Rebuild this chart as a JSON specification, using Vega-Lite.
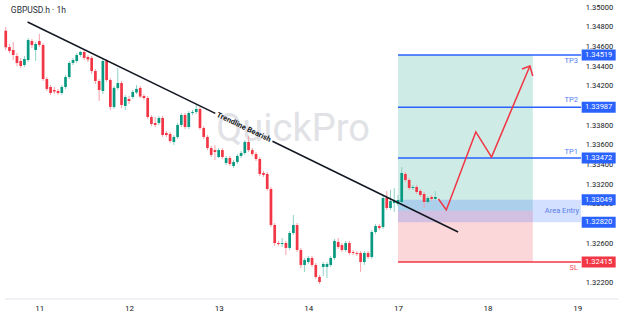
{
  "$schema": "https://vega.github.io/schema/vega-lite/v6.json",
  "width": 586,
  "height": 299,
  "autosize": {"type": "none"},
  "padding": {"left": 0, "top": 0, "right": 38, "bottom": 17},
  "background": "#ffffff",
  "config": {"view": {"stroke": null}, "font": "Roboto", "axis": {"grid": false}},
  "datasets": {
    "candles": [
      {"t":-9,"o":1.34766,"hi":1.34804,"lo":1.34570,"c":1.34597},
      {"t":-8,"o":1.34600,"hi":1.34631,"lo":1.34539,"c":1.34560},
      {"t":-7,"o":1.34570,"hi":1.34651,"lo":1.34468,"c":1.34519},
      {"t":-6,"o":1.34509,"hi":1.34539,"lo":1.34407,"c":1.34438},
      {"t":-5,"o":1.34458,"hi":1.34489,"lo":1.34387,"c":1.34407},
      {"t":-4,"o":1.34417,"hi":1.34509,"lo":1.34397,"c":1.34478},
      {"t":-3,"o":1.34468,"hi":1.34692,"lo":1.34448,"c":1.34671},
      {"t":-2,"o":1.34661,"hi":1.34682,"lo":1.34590,"c":1.34621},
      {"t":-1,"o":1.34570,"hi":1.34651,"lo":1.34458,"c":1.34631},
      {"t":0,"o":1.34661,"hi":1.34733,"lo":1.34600,"c":1.34621},
      {"t":1,"o":1.34621,"hi":1.34641,"lo":1.34255,"c":1.34275},
      {"t":2,"o":1.34275,"hi":1.34295,"lo":1.34153,"c":1.34174},
      {"t":3,"o":1.34194,"hi":1.34214,"lo":1.34113,"c":1.34133},
      {"t":4,"o":1.34163,"hi":1.34194,"lo":1.34122,"c":1.34148},
      {"t":5,"o":1.34153,"hi":1.34174,"lo":1.34113,"c":1.34133},
      {"t":6,"o":1.34133,"hi":1.34214,"lo":1.34113,"c":1.34194},
      {"t":7,"o":1.34194,"hi":1.34316,"lo":1.34174,"c":1.34295},
      {"t":8,"o":1.34295,"hi":1.34458,"lo":1.34275,"c":1.34438},
      {"t":9,"o":1.34438,"hi":1.34489,"lo":1.34417,"c":1.34468},
      {"t":10,"o":1.34458,"hi":1.34539,"lo":1.34438,"c":1.34519},
      {"t":11,"o":1.34519,"hi":1.34560,"lo":1.34499,"c":1.34550},
      {"t":12,"o":1.34550,"hi":1.34570,"lo":1.34468,"c":1.34489},
      {"t":13,"o":1.34499,"hi":1.34519,"lo":1.34448,"c":1.34473},
      {"t":14,"o":1.34489,"hi":1.34509,"lo":1.34326,"c":1.34356},
      {"t":15,"o":1.34356,"hi":1.34377,"lo":1.34224,"c":1.34255},
      {"t":16,"o":1.34255,"hi":1.34275,"lo":1.34052,"c":1.34163},
      {"t":17,"o":1.34153,"hi":1.34478,"lo":1.34122,"c":1.34458},
      {"t":18,"o":1.34458,"hi":1.34478,"lo":1.34245,"c":1.34265},
      {"t":19,"o":1.34265,"hi":1.34285,"lo":1.33960,"c":1.33991},
      {"t":20,"o":1.33991,"hi":1.34204,"lo":1.33970,"c":1.34184},
      {"t":21,"o":1.34184,"hi":1.34387,"lo":1.34163,"c":1.34234},
      {"t":22,"o":1.34234,"hi":1.34255,"lo":1.33980,"c":1.34011},
      {"t":23,"o":1.34001,"hi":1.34113,"lo":1.33960,"c":1.34092},
      {"t":24,"o":1.34072,"hi":1.34102,"lo":1.34021,"c":1.34052},
      {"t":25,"o":1.34092,"hi":1.34163,"lo":1.34072,"c":1.34143},
      {"t":26,"o":1.34138,"hi":1.34214,"lo":1.34122,"c":1.34174},
      {"t":27,"o":1.34184,"hi":1.34204,"lo":1.34082,"c":1.34097},
      {"t":28,"o":1.34102,"hi":1.34122,"lo":1.34062,"c":1.34082},
      {"t":29,"o":1.34082,"hi":1.34102,"lo":1.33869,"c":1.33889},
      {"t":30,"o":1.33889,"hi":1.33909,"lo":1.33797,"c":1.33818},
      {"t":31,"o":1.33828,"hi":1.33889,"lo":1.33787,"c":1.33808},
      {"t":32,"o":1.33828,"hi":1.33899,"lo":1.33808,"c":1.33879},
      {"t":33,"o":1.33879,"hi":1.33899,"lo":1.33686,"c":1.33706},
      {"t":34,"o":1.33726,"hi":1.33747,"lo":1.33686,"c":1.33706},
      {"t":35,"o":1.33716,"hi":1.33737,"lo":1.33625,"c":1.33645},
      {"t":36,"o":1.33635,"hi":1.33706,"lo":1.33604,"c":1.33686},
      {"t":37,"o":1.33686,"hi":1.33828,"lo":1.33665,"c":1.33808},
      {"t":38,"o":1.33808,"hi":1.33930,"lo":1.33787,"c":1.33909},
      {"t":39,"o":1.33909,"hi":1.33930,"lo":1.33767,"c":1.33787},
      {"t":40,"o":1.33787,"hi":1.33950,"lo":1.33767,"c":1.33930},
      {"t":41,"o":1.33930,"hi":1.33960,"lo":1.33909,"c":1.33940},
      {"t":42,"o":1.33940,"hi":1.34021,"lo":1.33919,"c":1.33970},
      {"t":43,"o":1.33970,"hi":1.33991,"lo":1.33757,"c":1.33777},
      {"t":44,"o":1.33777,"hi":1.33797,"lo":1.33665,"c":1.33686},
      {"t":45,"o":1.33686,"hi":1.33706,"lo":1.33553,"c":1.33574},
      {"t":46,"o":1.33574,"hi":1.33594,"lo":1.33482,"c":1.33503},
      {"t":47,"o":1.33553,"hi":1.33604,"lo":1.33452,"c":1.33533},
      {"t":48,"o":1.33482,"hi":1.33574,"lo":1.33472,"c":1.33553},
      {"t":49,"o":1.33553,"hi":1.33574,"lo":1.33462,"c":1.33482},
      {"t":50,"o":1.33421,"hi":1.33493,"lo":1.33401,"c":1.33472},
      {"t":51,"o":1.33472,"hi":1.33493,"lo":1.33391,"c":1.33411},
      {"t":52,"o":1.33391,"hi":1.33452,"lo":1.33371,"c":1.33432},
      {"t":53,"o":1.33432,"hi":1.33513,"lo":1.33411,"c":1.33493},
      {"t":54,"o":1.33493,"hi":1.33543,"lo":1.33472,"c":1.33523},
      {"t":55,"o":1.33523,"hi":1.33655,"lo":1.33503,"c":1.33635},
      {"t":56,"o":1.33635,"hi":1.33696,"lo":1.33533,"c":1.33553},
      {"t":57,"o":1.33553,"hi":1.33574,"lo":1.33493,"c":1.33513},
      {"t":58,"o":1.33513,"hi":1.33533,"lo":1.33442,"c":1.33462},
      {"t":59,"o":1.33462,"hi":1.33482,"lo":1.33289,"c":1.33310},
      {"t":60,"o":1.33320,"hi":1.33340,"lo":1.33279,"c":1.33300},
      {"t":61,"o":1.33310,"hi":1.33330,"lo":1.33137,"c":1.33157},
      {"t":62,"o":1.33157,"hi":1.33178,"lo":1.32771,"c":1.32791},
      {"t":63,"o":1.32791,"hi":1.32812,"lo":1.32578,"c":1.32608},
      {"t":64,"o":1.32608,"hi":1.32629,"lo":1.32578,"c":1.32598},
      {"t":65,"o":1.32598,"hi":1.32659,"lo":1.32568,"c":1.32608},
      {"t":66,"o":1.32608,"hi":1.32629,"lo":1.32486,"c":1.32558},
      {"t":67,"o":1.32558,"hi":1.32730,"lo":1.32537,"c":1.32710},
      {"t":68,"o":1.32710,"hi":1.32893,"lo":1.32690,"c":1.32791},
      {"t":69,"o":1.32791,"hi":1.32812,"lo":1.32517,"c":1.32537},
      {"t":70,"o":1.32537,"hi":1.32558,"lo":1.32354,"c":1.32385},
      {"t":71,"o":1.32385,"hi":1.32456,"lo":1.32314,"c":1.32436},
      {"t":72,"o":1.32415,"hi":1.32476,"lo":1.32395,"c":1.32456},
      {"t":73,"o":1.32456,"hi":1.32476,"lo":1.32365,"c":1.32385},
      {"t":74,"o":1.32385,"hi":1.32405,"lo":1.32243,"c":1.32263},
      {"t":75,"o":1.32263,"hi":1.32283,"lo":1.32192,"c":1.32212},
      {"t":76,"o":1.32365,"hi":1.32415,"lo":1.32273,"c":1.32395},
      {"t":77,"o":1.32365,"hi":1.32415,"lo":1.32253,"c":1.32395},
      {"t":78,"o":1.32385,"hi":1.32476,"lo":1.32365,"c":1.32456},
      {"t":79,"o":1.32456,"hi":1.32649,"lo":1.32436,"c":1.32629},
      {"t":80,"o":1.32619,"hi":1.32659,"lo":1.32547,"c":1.32568},
      {"t":81,"o":1.32588,"hi":1.32608,"lo":1.32517,"c":1.32537},
      {"t":82,"o":1.32537,"hi":1.32629,"lo":1.32517,"c":1.32608},
      {"t":83,"o":1.32608,"hi":1.32629,"lo":1.32486,"c":1.32507},
      {"t":84,"o":1.32517,"hi":1.32537,"lo":1.32486,"c":1.32507},
      {"t":85,"o":1.32507,"hi":1.32527,"lo":1.32476,"c":1.32497},
      {"t":86,"o":1.32507,"hi":1.32527,"lo":1.32314,"c":1.32415},
      {"t":87,"o":1.32415,"hi":1.32527,"lo":1.32385,"c":1.32507},
      {"t":88,"o":1.32507,"hi":1.32527,"lo":1.32446,"c":1.32466},
      {"t":89,"o":1.32466,"hi":1.32741,"lo":1.32446,"c":1.32720},
      {"t":90,"o":1.32720,"hi":1.32802,"lo":1.32700,"c":1.32781},
      {"t":91,"o":1.32781,"hi":1.32802,"lo":1.32741,"c":1.32761},
      {"t":92,"o":1.32771,"hi":1.33086,"lo":1.32751,"c":1.33066},
      {"t":93,"o":1.33066,"hi":1.33137,"lo":1.32944,"c":1.32964},
      {"t":94,"o":1.32964,"hi":1.33147,"lo":1.32944,"c":1.33035},
      {"t":95,"o":1.33015,"hi":1.33167,"lo":1.32923,"c":1.33035},
      {"t":96,"o":1.33005,"hi":1.33096,"lo":1.32984,"c":1.33045},
      {"t":97,"o":1.33025,"hi":1.33381,"lo":1.33005,"c":1.33320},
      {"t":98,"o":1.33310,"hi":1.33330,"lo":1.33228,"c":1.33249},
      {"t":99,"o":1.33249,"hi":1.33269,"lo":1.33147,"c":1.33167},
      {"t":100,"o":1.33167,"hi":1.33198,"lo":1.33147,"c":1.33178},
      {"t":101,"o":1.33178,"hi":1.33198,"lo":1.33106,"c":1.33127},
      {"t":102,"o":1.33137,"hi":1.33157,"lo":1.33076,"c":1.33096},
      {"t":103,"o":1.33106,"hi":1.33127,"lo":1.32964,"c":1.33025},
      {"t":104,"o":1.33025,"hi":1.33086,"lo":1.33005,"c":1.33066},
      {"t":105,"o":1.33076,"hi":1.33096,"lo":1.33035,"c":1.33056},
      {"t":106,"o":1.33056,"hi":1.33137,"lo":1.33045,"c":1.33076}
    ],
    "zones": [
      {"k":"tp","t":96,"t2":132.1,"p":1.32935,"p2":1.34519},
      {"k":"sl","t":96,"t2":132.1,"p":1.32415,"p2":1.32935},
      {"k":"entry","t":96,"t2":145,"p":1.32820,"p2":1.33049}
    ],
    "levels": [
      {"k":"tp","name":"TP3","t":96,"t2":145,"p":1.34519},
      {"k":"tp","name":"TP2","t":96,"t2":145,"p":1.33987},
      {"k":"tp","name":"TP1","t":96,"t2":145,"p":1.33472},
      {"k":"sl","name":"SL","t":96,"t2":145,"p":1.32415}
    ],
    "levelText": [
      {"k":"tp","label":"TP3","t":144.2,"p":1.34463},
      {"k":"tp","label":"TP2","t":144.2,"p":1.34062},
      {"k":"tp","label":"TP1","t":144.2,"p":1.33533},
      {"k":"sl","label":"SL","t":144.2,"p":1.32349},
      {"k":"entry","label":"Area Entry","t":144.5,"p":1.32934}
    ],
    "boxes": [
      {"k":"tp","label":"1.34519","t":149.73,"p":1.34519},
      {"k":"tp","label":"1.33987","t":149.73,"p":1.33987},
      {"k":"tp","label":"1.33472","t":149.73,"p":1.33472},
      {"k":"tp","label":"1.33049","t":149.73,"p":1.33049},
      {"k":"tp","label":"1.32820","t":149.73,"p":1.32820},
      {"k":"sl","label":"1.32415","t":149.73,"p":1.32415}
    ],
    "ticksY": [
      {"t":146.3,"p":1.322,"label":"1.32200"},
      {"t":146.3,"p":1.326,"label":"1.32600"},
      {"t":146.3,"p":1.330,"label":"1.33000"},
      {"t":146.3,"p":1.332,"label":"1.33200"},
      {"t":146.3,"p":1.334,"label":"1.33400"},
      {"t":146.3,"p":1.336,"label":"1.33600"},
      {"t":146.3,"p":1.338,"label":"1.33800"},
      {"t":146.3,"p":1.342,"label":"1.34200"},
      {"t":146.3,"p":1.344,"label":"1.34400"},
      {"t":146.3,"p":1.346,"label":"1.34600"},
      {"t":146.3,"p":1.348,"label":"1.34800"},
      {"t":146.3,"p":1.350,"label":"1.35000"}
    ],
    "trend": [
      {"seg":"a","ord":0,"t":-3.16,"p":1.34854},
      {"seg":"a","ord":1,"t":47.1,"p":1.33925},
      {"seg":"b","ord":0,"t":62.4,"p":1.33642},
      {"seg":"b","ord":1,"t":112.1,"p":1.32720}
    ],
    "arrow": [
      {"seg":"path","ord":0,"t":106.84,"p":1.33056},
      {"seg":"path","ord":1,"t":108.95,"p":1.32944},
      {"seg":"path","ord":2,"t":116.84,"p":1.33737},
      {"seg":"path","ord":3,"t":121.05,"p":1.33482},
      {"seg":"path","ord":4,"t":131.32,"p":1.34407},
      {"seg":"head","ord":0,"t":129.21,"p":1.34377},
      {"seg":"head","ord":1,"t":131.32,"p":1.34407},
      {"seg":"head","ord":2,"t":132.1,"p":1.34306}
    ],
    "notes": [
      {"k":"watermark","label":"QuickPro","t":67.9,"p":1.33645},
      {"k":"title","label":"GBPUSD.h · 1h","t":-7.63,"p":1.34976},
      {"k":"trend","label":"Trendline Bearish","t":54.7,"p":1.33783}
    ],
    "baseline": [
      {"t":-9.2,"t2":155,"p":1.32039}
    ]
  },
  "encoding": {
    "x": {
      "field": "t", "type": "quantitative",
      "scale": {"domain": [-9.2, 145], "nice": false, "zero": false},
      "axis": {
        "title": null, "values": [0, 24, 48, 72, 96, 120, 144],
        "labelExpr": "['11','12','13','14','17','18','19'][datum.value/24]",
        "domain": false, "ticks": false, "tickSize": 0, "labelPadding": 5,
        "labelFontSize": 8, "labelColor": "#131722", "labelFont": "Roboto"
      }
    },
    "y": {
      "field": "p", "type": "quantitative",
      "scale": {"domain": [1.32039, 1.35078], "nice": false, "zero": false},
      "axis": null
    }
  },
  "layer": [
    {
      "data": {"name": "notes"},
      "transform": [{"filter": "datum.k == 'watermark'"}],
      "mark": {"type": "text", "fontSize": 38, "font": "Roboto", "color": "#e1e2e6", "align": "center", "baseline": "alphabetic"},
      "encoding": {"text": {"field": "label"}}
    },
    {
      "data": {"name": "zones"},
      "mark": {"type": "rect", "opacity": 0.2},
      "encoding": {
        "x2": {"field": "t2"},
        "y2": {"field": "p2"},
        "color": {"condition": [{"test": "datum.k == 'tp'", "value": "#089981"}, {"test": "datum.k == 'sl'", "value": "#f23645"}], "value": "#2962ff"}
      }
    },
    {
      "data": {"name": "levels"},
      "mark": {"type": "rule", "strokeWidth": 1.5},
      "encoding": {
        "x2": {"field": "t2"},
        "color": {"condition": {"test": "datum.k == 'sl'", "value": "#f23645"}, "value": "#2962ff"}
      }
    },
    {
      "data": {"name": "baseline"},
      "mark": {"type": "rule", "strokeWidth": 1, "color": "#e0e3eb"},
      "encoding": {"x2": {"field": "t2"}}
    },
    {
      "data": {"name": "ticksY"},
      "mark": {"type": "text", "fontSize": 7.5, "font": "Roboto", "color": "#131722", "align": "left", "baseline": "middle"},
      "encoding": {"text": {"field": "label"}}
    },
    {
      "data": {"name": "candles"},
      "mark": {"type": "rule", "strokeWidth": 1},
      "encoding": {
        "y": {"field": "lo", "type": "quantitative", "scale": {"domain": [1.32039, 1.35078], "nice": false, "zero": false}, "axis": null},
        "y2": {"field": "hi"},
        "color": {"condition": {"test": "datum.c >= datum.o", "value": "#8fd3c6"}, "value": "#f7a1a9"}
      }
    },
    {
      "data": {"name": "candles"},
      "mark": {"type": "bar", "size": 2.7},
      "encoding": {
        "y": {"field": "o", "type": "quantitative", "scale": {"domain": [1.32039, 1.35078], "nice": false, "zero": false}, "axis": null},
        "y2": {"field": "c"},
        "color": {"condition": {"test": "datum.c >= datum.o", "value": "#089981"}, "value": "#f23645"}
      }
    },
    {
      "data": {"name": "trend"},
      "mark": {"type": "line", "strokeWidth": 1.5, "color": "#131722"},
      "encoding": {"detail": {"field": "seg"}, "order": {"field": "ord", "type": "quantitative"}}
    },
    {
      "data": {"name": "notes"},
      "transform": [{"filter": "datum.k == 'trend'"}],
      "mark": {"type": "text", "fontSize": 7.5, "fontWeight": "bold", "font": "Roboto", "color": "#131722", "angle": 25.6, "align": "center", "baseline": "middle"},
      "encoding": {"text": {"field": "label"}}
    },
    {
      "data": {"name": "arrow"},
      "mark": {"type": "line", "strokeWidth": 1.5, "color": "#f23645"},
      "encoding": {"detail": {"field": "seg"}, "order": {"field": "ord", "type": "quantitative"}}
    },
    {
      "data": {"name": "levelText"},
      "mark": {"type": "text", "fontSize": 7.5, "font": "Roboto", "align": "right", "baseline": "middle"},
      "encoding": {
        "text": {"field": "label"},
        "color": {"condition": [{"test": "datum.k == 'sl'", "value": "#f7525f"}, {"test": "datum.k == 'entry'", "value": "#5a7fe6"}], "value": "#4f7cf7"}
      }
    },
    {
      "data": {"name": "boxes"},
      "mark": {"type": "tick", "orient": "horizontal", "size": 34, "thickness": 11, "opacity": 1},
      "encoding": {
        "color": {"condition": {"test": "datum.k == 'sl'", "value": "#f23645"}, "value": "#2962ff"}
      }
    },
    {
      "data": {"name": "boxes"},
      "mark": {"type": "text", "fontSize": 7.5, "font": "Roboto", "color": "#ffffff", "align": "center", "baseline": "middle"},
      "encoding": {"text": {"field": "label"}}
    },
    {
      "data": {"name": "notes"},
      "transform": [{"filter": "datum.k == 'title'"}],
      "mark": {"type": "text", "fontSize": 8.5, "font": "Roboto", "color": "#2a2e39", "align": "left", "baseline": "middle"},
      "encoding": {"text": {"field": "label"}}
    }
  ]
}
